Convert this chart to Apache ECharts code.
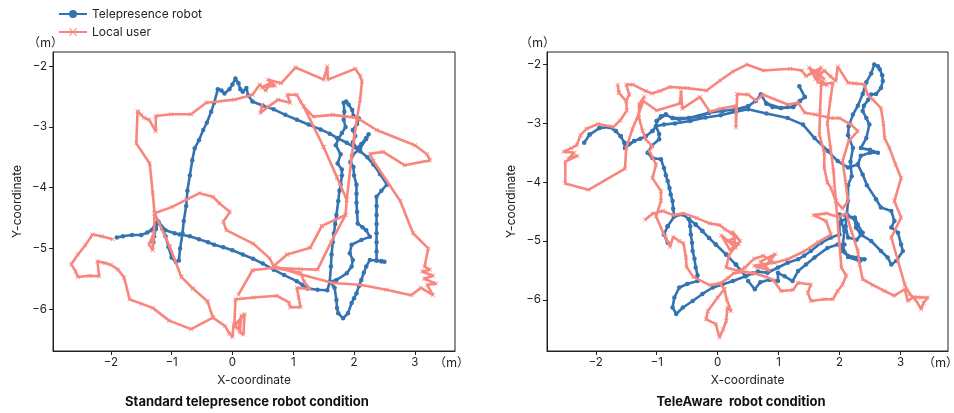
<!DOCTYPE html>
<html><head><meta charset="utf-8">
<script src="https://cdn.jsdelivr.net/npm/echarts@6/dist/echarts.min.js"></script>
<style>html,body{margin:0;padding:0;background:#fff}#c{width:954px;height:413px}</style>
</head><body><div id="c"></div>
<script>
// ---------- data (metres) ----------
const seriesNames = ['Telepresence robot', 'Local user'];
const panelTitles = ['Standard telepresence robot condition', 'TeleAware  robot condition'];
const axisNames = ['X-coordinate', 'Y-coordinate'];
const unitLabel = '（m）';

const leftRobot = [
[-1.9,-4.82],[-1.8,-4.8],[-1.65,-4.78],[-1.5,-4.78],[-1.4,-4.74],[-1.33,-4.7],[-1.27,-4.6],[-1.22,-4.56],
[-1.26,-4.68],[-1.29,-4.8],[-1.3,-4.9],[-1.29,-4.8],[-1.26,-4.68],[-1.22,-4.56],
[-1.1,-4.7],[-0.95,-4.75],[-0.87,-4.77],[-0.7,-4.8],[-0.55,-4.85],[-0.4,-4.9],[-0.3,-4.94],[-0.15,-4.98],[0.0,-5.03],[0.17,-5.1],[0.34,-5.17],[0.5,-5.25],[0.68,-5.35],[0.85,-5.44],[1.06,-5.54],[1.15,-5.6],[1.23,-5.66],[1.4,-5.68],[1.56,-5.69],[1.6,-5.55],
[1.62,-5.3],[1.63,-5.1],[1.65,-4.9],[1.67,-4.75],[1.69,-4.6],[1.71,-4.45],[1.74,-4.22],[1.76,-4.05],[1.78,-3.95],[1.8,-3.8],[1.8,-3.7],
[1.73,-3.6],[1.78,-3.45],[1.7,-3.3],[1.74,-3.2],[1.8,-3.1],[1.86,-3.0],[1.83,-2.88],[1.84,-2.75],[1.83,-2.6],[1.87,-2.58],[1.91,-2.63],[1.97,-2.72],[1.99,-2.82],[2.08,-2.86],[2.05,-2.95],[1.98,-3.05],[2.02,-3.15],[1.98,-3.25],[2.05,-3.35],[2.12,-3.28],[2.2,-3.18],[2.24,-3.12],[2.2,-3.2],[2.1,-3.35],[1.97,-3.47],[1.94,-3.58],[1.99,-3.66],[2.0,-3.8],[2.04,-3.95],[2.04,-4.1],[2.04,-4.25],[2.05,-4.4],[2.06,-4.59],[2.14,-4.65],[2.2,-4.7],[2.26,-4.81],[2.12,-4.86],[1.96,-4.94],[1.93,-5.08],[1.98,-5.19],[1.96,-5.3],[1.88,-5.41],[1.71,-5.52],[1.6,-5.55],
[1.68,-5.65],[1.71,-5.85],[1.72,-5.98],[1.74,-6.07],[1.82,-6.15],[1.9,-6.07],[1.96,-5.9],[2.0,-5.82],[2.04,-5.74],[2.08,-5.62],[2.12,-5.52],[2.16,-5.4],[2.2,-5.3],[2.26,-5.19],[2.37,-5.2],[2.45,-5.21],[2.5,-5.22],[2.45,-5.21],[2.37,-5.2],
[2.37,-5.05],[2.37,-4.9],[2.37,-4.75],[2.37,-4.6],[2.37,-4.45],[2.37,-4.3],[2.37,-4.15],[2.45,-4.05],[2.54,-3.95],
[2.43,-3.78],[2.32,-3.62],[2.22,-3.5],[2.1,-3.4],[2.0,-3.33],[1.88,-3.26],[1.72,-3.18],[1.6,-3.11],[1.45,-3.04],[1.25,-2.96],[1.06,-2.88],[0.87,-2.8],[0.68,-2.71],[0.5,-2.65],[0.33,-2.58],
[0.26,-2.48],[0.23,-2.36],[0.17,-2.42],[0.13,-2.38],[0.1,-2.28],[0.05,-2.2],[0.0,-2.3],[-0.05,-2.38],[-0.13,-2.45],[-0.18,-2.4],[-0.24,-2.38],
[-0.3,-2.6],[-0.35,-2.75],[-0.42,-2.93],[-0.48,-3.05],[-0.55,-3.22],[-0.62,-3.35],[-0.66,-3.55],[-0.7,-3.8],[-0.74,-4.05],[-0.76,-4.3],[-0.8,-4.55],[-0.82,-4.75],[-0.86,-5.0],[-0.88,-5.2],[-0.93,-5.22],[-1.0,-5.15],[-1.05,-4.98],[-1.1,-4.8],[-1.15,-4.68],[-1.22,-4.56]
];

const leftUser = [
[-1.97,-4.85],[-2.15,-4.8],[-2.3,-4.77],[-2.42,-4.95],[-2.54,-5.1],[-2.65,-5.26],[-2.58,-5.38],[-2.54,-5.47],[-2.35,-5.45],[-2.19,-5.46],[-2.22,-5.21],[-2.1,-5.24],[-2.0,-5.27],[-1.88,-5.35],[-1.78,-5.48],[-1.69,-5.84],[-1.5,-5.91],[-1.31,-5.98],[-1.04,-6.19],[-0.68,-6.33],[-0.32,-6.14],
[-0.12,-6.28],[-0.05,-6.4],[0.0,-6.46],[0.02,-6.25],[0.1,-6.33],[0.15,-6.1],[0.12,-6.38],[0.18,-6.42],[0.2,-6.08],[0.08,-6.22],[0.03,-6.3],[0.05,-5.84],
[0.35,-5.81],[0.73,-5.78],[0.93,-5.89],[0.95,-5.97],[1.12,-5.97],[1.09,-5.81],[1.06,-5.65],[1.28,-5.67],[1.18,-5.55],[1.12,-5.4],[0.68,-5.32],[0.33,-5.36],[0.1,-5.76],[0.33,-5.36],[0.68,-5.32],[1.12,-5.34],[1.4,-5.35],[1.62,-4.9],[1.86,-4.45],[1.88,-4.2],[1.96,-3.49],[2.0,-3.2],[2.05,-2.85],
[2.37,-3.05],[3.0,-3.3],[3.2,-3.45],[3.25,-3.55],[2.83,-3.63],[2.48,-3.41],[2.26,-3.44],[2.32,-3.56],[2.76,-4.22],[2.97,-4.75],[3.22,-5.0],[3.16,-5.3],
[3.25,-5.35],[3.12,-5.38],[3.3,-5.45],[3.15,-5.5],[3.35,-5.58],[3.2,-5.6],[3.3,-5.77],[3.1,-5.65],[2.94,-5.77],[2.53,-5.68],[2.1,-5.6],[1.65,-5.57],[1.1,-5.42],[0.68,-5.29],
[0.9,-5.1],[1.28,-4.99],[1.47,-4.63],[1.86,-4.45],[1.47,-4.63],[1.28,-4.99],[0.9,-5.1],[0.68,-5.29],
[0.61,-5.16],[0.34,-4.92],[-0.1,-4.7],[-0.15,-4.56],[-0.04,-4.4],[-0.21,-4.26],[-0.32,-4.15],[-0.54,-4.09],[-0.76,-4.2],[-1.0,-4.32],[-1.28,-4.42],
[-1.29,-4.75],[-1.37,-4.93],[-1.31,-5.03],[-1.29,-4.75],[-1.28,-4.42],
[-1.03,-4.97],[-0.84,-5.47],[-0.65,-5.66],[-0.41,-5.87],[-0.32,-6.14],[-0.41,-5.87],[-0.65,-5.66],[-0.84,-5.47],[-1.03,-4.97],[-1.28,-4.42],
[-1.31,-4.09],[-1.36,-3.6],[-1.58,-3.27],[-1.56,-2.74],[-1.5,-2.8],[-1.55,-2.75],[-1.45,-2.85],[-1.37,-2.88],[-1.26,-3.07],[-1.26,-2.82],[-1.01,-2.79],[-0.68,-2.79],[-0.43,-2.6],[0.03,-2.55],[0.33,-2.47],
[0.45,-2.3],[0.55,-2.4],[0.62,-2.28],[0.48,-2.35],[0.7,-2.32],[0.58,-2.22],[0.8,-2.28],
[1.04,-2.02],[1.5,-2.22],[1.56,-2.0],[1.57,-2.22],[2.02,-2.04],[2.1,-2.16],[2.13,-2.25],[2.1,-2.55],[2.05,-2.85],[1.65,-2.8],[1.33,-2.83],[1.17,-2.66],
[1.5,-3.33],[1.72,-3.83],[1.88,-4.2],[1.72,-3.83],[1.5,-3.33],[1.17,-2.66],
[1.12,-2.58],[1.06,-2.47],[0.9,-2.47],[0.95,-2.6],[0.75,-2.55],[0.6,-2.66],[0.46,-2.77],[0.49,-2.63]
];

const rightRobot = [
[0.5,-5.68],[0.61,-5.82],[0.7,-5.7],[0.85,-5.66],[0.99,-5.68],[0.99,-5.54],[1.1,-5.6],[1.23,-5.68],[1.32,-5.51],[1.45,-5.4],[1.59,-5.28],[1.8,-5.12],[1.97,-5.06],
[2.08,-5.06],[2.03,-5.17],[2.14,-5.25],[2.3,-5.28],[2.41,-5.31],[2.33,-5.34],[2.14,-5.27],[2.05,-5.1],[2.08,-4.83],[2.03,-4.66],[2.0,-4.55],[2.14,-4.58],[2.25,-4.6],[2.3,-4.72],[2.38,-4.86],[2.28,-4.98],[2.14,-4.94],[2.1,-4.75],[2.12,-4.55],
[2.14,-4.32],[2.14,-4.05],[2.2,-3.9],[2.18,-3.65],[2.22,-3.42],[2.14,-3.2],[2.15,-3.05],[2.22,-2.85],[2.3,-2.7],[2.38,-2.5],[2.44,-2.3],[2.52,-2.15],[2.57,-2.0],
[2.63,-2.03],[2.66,-2.08],[2.7,-2.18],[2.71,-2.28],[2.68,-2.4],[2.6,-2.5],[2.52,-2.51],[2.47,-2.6],[2.4,-2.7],[2.38,-2.79],[2.44,-2.91],[2.49,-3.02],[2.44,-3.25],[2.35,-3.42],[2.5,-3.45],[2.63,-3.5],[2.5,-3.5],[2.35,-3.55],[2.3,-3.7],
[2.38,-3.87],[2.45,-4.05],[2.6,-4.29],[2.68,-4.43],[2.85,-4.49],[2.9,-4.66],[2.85,-4.77],[2.96,-4.86],[3.01,-5.06],[3.04,-5.17],[2.93,-5.34],[2.85,-5.4],[2.79,-5.28],[2.68,-5.17],[2.52,-5.0],[2.35,-4.89],[2.27,-4.77],[2.25,-4.63],[2.14,-4.58],[2.0,-4.7],[2.0,-4.89],
[1.86,-4.94],[1.7,-5.03],[1.53,-5.17],[1.42,-5.25],[1.32,-5.31],[1.15,-5.37],[0.99,-5.45],[0.82,-5.54],[0.66,-5.52],[0.58,-5.55],[0.46,-5.6],
[0.3,-5.4],[0.14,-5.23],[-0.03,-5.06],[-0.14,-4.95],[-0.25,-4.83],[-0.36,-4.72],[-0.47,-4.63],
[-0.45,-4.75],[-0.44,-4.89],[-0.42,-5.03],[-0.41,-5.17],[-0.38,-5.3],[-0.36,-5.45],[-0.33,-5.58],[-0.33,-5.68],
[-0.5,-5.73],[-0.63,-5.79],[-0.71,-5.96],[-0.74,-6.13],[-0.68,-6.24],[-0.57,-6.13],[-0.41,-6.02],[-0.25,-5.9],[-0.08,-5.79],[0.08,-5.74],[0.25,-5.68],[0.46,-5.6],
[0.3,-5.4],[0.14,-5.23],[-0.03,-5.06],[-0.14,-4.95],[-0.25,-4.83],[-0.36,-4.72],[-0.47,-4.63],
[-0.57,-4.55],[-0.71,-4.58],[-0.82,-4.75],[-0.88,-4.89],[-0.82,-5.03],[-0.88,-4.89],[-0.82,-4.75],[-0.71,-4.58],
[-0.73,-4.45],[-0.74,-4.32],[-0.77,-4.21],[-0.79,-4.1],[-0.82,-3.98],[-0.85,-3.88],[-0.88,-3.76],[-0.93,-3.61],[-1.07,-3.59],[-1.15,-3.5],[-1.08,-3.38],[-0.96,-3.27],[-0.96,-3.18],[-1.01,-3.05],
[-1.0,-2.96],[-0.93,-2.88],[-0.85,-2.85],[-0.74,-2.91],[-0.63,-2.93],[-0.47,-2.91],[-0.3,-2.88],[-0.14,-2.82],[0.08,-2.79],[0.3,-2.76],[0.5,-2.71],[0.62,-2.62],[0.71,-2.51],[0.8,-2.66],[0.9,-2.72],[1.04,-2.74],[1.15,-2.72],[1.24,-2.72],[1.35,-2.62],[1.43,-2.55],[1.34,-2.37],[1.43,-2.55],[1.35,-2.62],[1.24,-2.72],[1.04,-2.74],[0.8,-2.66],[0.71,-2.51],[0.62,-2.62],[0.5,-2.71],[0.3,-2.76],[0.08,-2.79],[-0.14,-2.82],[-0.47,-2.91],[-0.74,-2.91],[-0.85,-2.85],[-1.0,-2.96],[-1.01,-3.05],
[-1.07,-3.13],[-1.18,-3.22],[-1.27,-3.26],[-1.37,-3.3],[-1.45,-3.35],[-1.52,-3.42],[-1.53,-3.33],[-1.59,-3.22],[-1.67,-3.13],[-1.78,-3.06],[-1.94,-3.08],[-2.1,-3.19],[-2.19,-3.33],[-2.1,-3.19],[-1.94,-3.08],[-1.78,-3.06],[-1.67,-3.13],[-1.59,-3.22],[-1.53,-3.33],[-1.52,-3.42],[-1.37,-3.3],[-1.18,-3.22],[-1.07,-3.13],[-1.01,-3.05],
[-0.88,-3.02],[-0.7,-3.0],[-0.45,-2.96],[-0.2,-2.9],[0.05,-2.86],[0.3,-2.8],[0.5,-2.76],[0.8,-2.83],[1.15,-2.91],[1.4,-3.02],[1.59,-3.25],[1.81,-3.47],[1.97,-3.64],[2.14,-3.75],[2.3,-3.7]
];

const rightUser = [
[-1.19,-4.64],[-1.06,-4.53],[-0.9,-4.49],[-0.73,-4.56],[-0.56,-4.53],[-0.34,-4.61],[-0.13,-4.7],[0.04,-4.73],
[0.12,-4.8],[0.22,-4.86],[0.3,-4.95],[0.15,-5.0],[0.35,-5.05],[0.2,-5.15],[0.06,-4.9],[0.3,-5.12],[0.25,-4.85],[0.37,-5.0],[0.19,-5.23],[0.14,-5.45],[0.35,-5.51],[0.45,-5.45],
[0.6,-5.3],[0.75,-5.25],[0.9,-5.35],[0.65,-5.45],[0.8,-5.4],[0.95,-5.22],[0.7,-5.35],[0.85,-5.5],[0.6,-5.42],[0.93,-5.37],
[1.15,-5.31],[1.43,-5.17],[1.65,-5.02],[1.86,-4.89],[1.78,-4.66],[1.57,-4.56],[1.79,-4.53],[1.98,-4.59],[2.11,-4.53],
[2.2,-4.85],[2.3,-5.17],[2.33,-5.4],[2.38,-5.65],[2.55,-5.75],[2.74,-5.85],[2.9,-5.93],[3.07,-5.82],[3.12,-6.02],[3.22,-5.95],[3.34,-5.96],[3.45,-5.96],[3.38,-6.05],[3.34,-6.16],[3.25,-6.0],[3.15,-5.9],[3.07,-5.74],
[2.96,-5.34],[2.85,-4.94],[3.01,-4.6],[2.9,-4.32],[3.01,-3.93],[2.92,-3.7],[2.82,-3.42],[2.74,-3.25],[2.72,-3.0],[2.68,-2.74],[2.55,-2.6],[2.46,-2.51],[2.41,-2.34],[2.25,-2.32],[2.14,-2.31],[1.97,-2.03],[1.94,-2.28],
[1.85,-2.2],[1.75,-2.1],[1.6,-2.25],[1.7,-2.05],[1.55,-2.15],[1.8,-2.35],[1.65,-2.3],[1.5,-2.05],[1.75,-2.25],[1.6,-2.1],[1.45,-2.2],[1.38,-2.1],
[1.19,-2.07],[0.75,-2.1],[0.48,-2.0],[0.25,-2.12],[0.04,-2.27],[-0.18,-2.44],[-0.5,-2.4],[-0.78,-2.38],[-0.95,-2.45],[-1.08,-2.49],[-1.18,-2.45],[-1.39,-2.34],[-1.5,-2.34],[-1.45,-2.51],[-1.5,-2.62],[-1.62,-2.48],[-1.64,-2.34],[-1.62,-2.48],[-1.5,-2.62],
[-1.49,-2.78],[-1.6,-2.95],[-1.71,-3.06],[-1.96,-3.01],[-2.15,-3.09],[-2.25,-3.2],[-2.31,-3.37],[-2.4,-3.42],[-2.53,-3.48],[-2.35,-3.5],[-2.45,-3.6],[-2.3,-3.55],[-2.5,-3.65],[-2.5,-4.02],[-2.12,-4.13],[-1.52,-3.77],[-1.5,-3.42],
[-1.4,-3.1],[-1.3,-2.85],[-1.22,-2.62],[-1.0,-2.78],[-0.62,-2.66],[-0.6,-2.45],[-0.58,-2.75],[-0.29,-2.55],[-0.13,-2.8],[0.04,-2.75],[0.3,-2.7],[0.3,-3.07],[0.32,-2.5],[0.5,-2.51],[0.63,-2.62],[0.74,-2.51],[1.15,-2.68],[1.32,-2.65],[1.43,-2.82],[1.6,-2.85],[1.86,-2.91],[2.0,-2.91],[2.19,-3.02],[2.3,-3.13],
[2.15,-3.3],[2.05,-3.64],[2.1,-4.0],[2.14,-4.32],[2.05,-4.45],[1.94,-4.32],[1.9,-3.8],[1.85,-3.4],[1.8,-3.0],[1.85,-2.6],[1.89,-2.31],[1.7,-2.34],[1.68,-2.8],[1.67,-3.19],[1.75,-3.5],[1.75,-3.76],[1.8,-4.0],[1.86,-4.1],[1.94,-4.32],[2.0,-5.06],
[2.03,-5.45],[2.11,-5.59],[2.05,-5.74],[1.97,-5.85],[1.89,-5.99],[1.75,-5.99],[1.53,-6.02],[1.48,-5.88],[1.53,-5.74],[1.32,-5.71],[1.24,-5.83],[1.04,-5.85],[0.91,-5.66],[0.8,-5.61],[0.6,-5.55],[0.42,-5.52],[0.26,-5.55],[0.17,-5.63],[0.04,-5.72],
[0.11,-5.82],[0.0,-5.96],[-0.16,-6.19],[-0.19,-6.33],[-0.03,-6.41],[0.03,-6.64],[0.09,-6.5],[0.14,-6.36],[0.16,-6.13],[0.22,-6.19],[0.15,-6.0],[0.11,-5.82],[0.04,-5.72],
[-0.13,-5.75],[-0.4,-5.61],[-0.51,-5.44],[-0.52,-5.28],[-0.56,-5.04],[-0.63,-5.0],[-0.73,-4.93],[-0.78,-5.1],[-0.85,-4.94],[-0.89,-4.87],[-1.01,-4.58],[-0.93,-4.32],[-0.93,-4.15],[-1.07,-3.93],[-1.01,-3.7],[-1.12,-3.47],[-1.07,-3.39],[-1.18,-3.27],[-1.23,-3.13],[-1.29,-2.91],[-1.29,-2.68],[-1.2,-2.54]
];

// axis extents (metres)
const leftXRange = [-2.95, 3.66], leftYRange = [-6.69, -1.765];
const rightXRange = [-2.80, 3.78], rightYRange = [-6.87, -1.786];

// ---------- chart ----------
const BLUE = '#3473b2', PINK = '#f8867d';
const FONT = 'Inter, "DejaVu Sans", sans-serif';
const crossSym = 'path://M1,0L5,4L9,0L10,1L6,5L10,9L9,10L5,6L1,10L0,9L4,5L0,1Z';
const fmt = v => (v < 0 ? '\u2212' : '') + Math.abs(v);

function xAxis(idx, range) {
  return {
    type: 'value', gridIndex: idx, min: range[0], max: range[1], splitNumber: 6,
    name: axisNames[0], nameLocation: 'middle', nameGap: 21,
    nameTextStyle: { fontFamily: FONT, fontSize: 12, color: '#222' },
    axisLine: { show: true, onZero: false, lineStyle: { color: '#222', width: 1 } },
    axisTick: { show: true, length: 4, lineStyle: { color: '#222' } },
    axisLabel: { formatter: fmt, fontFamily: FONT, fontSize: 11.5, color: '#222', margin: 6, showMinLabel: false, showMaxLabel: false },
    splitLine: { show: false }
  };
}
function yAxis(idx, range) {
  return {
    type: 'value', gridIndex: idx, min: range[0], max: range[1], splitNumber: 5,
    name: axisNames[1], nameLocation: 'middle', nameGap: 30, nameRotate: 90,
    nameTextStyle: { fontFamily: FONT, fontSize: 12, color: '#222' },
    axisLine: { show: true, onZero: false, lineStyle: { color: '#222', width: 1 } },
    axisTick: { show: true, length: 4, lineStyle: { color: '#222' } },
    axisLabel: { formatter: fmt, fontFamily: FONT, fontSize: 11.5, color: '#222', margin: 6, showMinLabel: false, showMaxLabel: false },
    splitLine: { show: false }
  };
}
function robot(idx, data) {
  return { name: seriesNames[0], type: 'line', xAxisIndex: idx, yAxisIndex: idx, data: data,
    symbol: 'circle', symbolSize: 4.5, showSymbol: true, lineStyle: { color: BLUE, width: 2.6 },
    itemStyle: { color: BLUE }, z: 2, clip: true };
}
function user(idx, data) {
  return { name: seriesNames[1], type: 'line', xAxisIndex: idx, yAxisIndex: idx, data: data,
    symbol: crossSym, symbolSize: 4.5, showSymbol: true, lineStyle: { color: PINK, width: 2.6 },
    itemStyle: { color: PINK }, z: 3, clip: true };
}

const chart = echarts.init(document.getElementById('c'), null, { renderer: 'canvas' });
chart.setOption({
  animation: false,
  backgroundColor: '#fff',
  textStyle: { fontFamily: FONT },
  legend: {
    data: seriesNames, orient: 'vertical', left: 53, top: 3, itemWidth: 28, itemHeight: 10, itemGap: 6,
    textStyle: { fontFamily: FONT, fontSize: 12, color: '#222' }
  },
  grid: [
    { left: 53, top: 52, width: 402, height: 299, show: true, borderColor: '#222', borderWidth: 1, backgroundColor: 'transparent' },
    { left: 547, top: 52, width: 401, height: 299, show: true, borderColor: '#222', borderWidth: 1, backgroundColor: 'transparent' }
  ],
  xAxis: [xAxis(0, leftXRange), xAxis(1, rightXRange)],
  yAxis: [yAxis(0, leftYRange), yAxis(1, rightYRange)],
  series: [robot(0, leftRobot), user(0, leftUser), robot(1, rightRobot), user(1, rightUser)],
  graphic: [
    { type: 'text', left: 28, top: 36, style: { text: unitLabel, font: '12px "Noto Sans CJK JP"', fill: '#222' } },
    { type: 'text', left: 520, top: 36, style: { text: unitLabel, font: '12px "Noto Sans CJK JP"', fill: '#222' } },
    { type: 'text', left: 434, top: 356, style: { text: unitLabel, font: '12px "Noto Sans CJK JP"', fill: '#222' } },
    { type: 'text', left: 923, top: 356, style: { text: unitLabel, font: '12px "Noto Sans CJK JP"', fill: '#222' } },
    { type: 'text', x: 247, y: 402, style: { text: panelTitles[0], font: 'bold 13px ' + FONT, fill: '#111', align: 'center', verticalAlign: 'middle' } },
    { type: 'text', x: 741, y: 402, style: { text: panelTitles[1], font: 'bold 13px ' + FONT, fill: '#111', align: 'center', verticalAlign: 'middle' } }
  ]
});
</script>
</body></html>
